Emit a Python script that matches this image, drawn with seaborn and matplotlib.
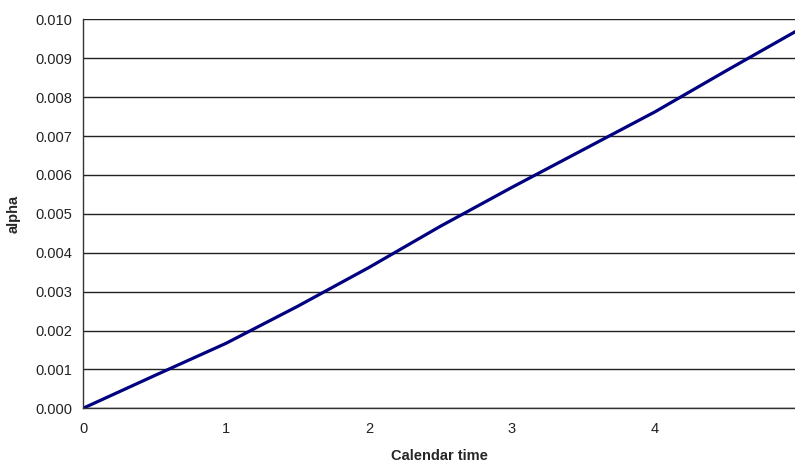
import numpy as np
import pandas as pd
import matplotlib
matplotlib.use('Agg')
import matplotlib.pyplot as plt
import seaborn as sns

# values
calendar_time = [0.0, 0.5, 1.0, 1.5, 2.0, 2.5, 3.0, 3.5, 4.0, 4.5, 5.0]
alpha_vals = [0.0, 0.00084, 0.00167, 0.00262, 0.00362, 0.00468, 0.00568,
              0.00665, 0.00762, 0.00868, 0.00972]
y_ticks = [0.000, 0.001, 0.002, 0.003, 0.004, 0.005, 0.006, 0.007, 0.008, 0.009, 0.010]
x_ticks = [0, 1, 2, 3, 4]

df = pd.DataFrame({'Calendar time': calendar_time, 'alpha': alpha_vals})

sns.set_style('white')
plt.rcParams['font.family'] = ['Liberation Sans', 'DejaVu Sans']

fig = plt.figure(figsize=(7.95, 4.65), dpi=100)
ax = fig.add_axes([83 / 795, 1 - 408.3 / 465, 712 / 795, 389 / 465])

sns.lineplot(data=df, x='Calendar time', y='alpha', color='#000080',
             linewidth=2.3, ax=ax)

ax.set_xlim(0, 4.98)
ax.set_ylim(0, 0.010)
ax.set_xticks(x_ticks)
ax.set_yticks(y_ticks)
ax.set_yticklabels(['%.3f' % v for v in y_ticks])
ax.yaxis.grid(True, color='#222222', linewidth=1)
ax.set_axisbelow(True)

for s in ['top', 'right']:
    ax.spines[s].set_visible(False)
for s in ['left', 'bottom']:
    ax.spines[s].set_color('#333333')
    ax.spines[s].set_linewidth(1)

ax.tick_params(axis='both', which='major', labelsize=10.5, length=4, width=1,
               color='#333333', direction='out', pad=4, labelcolor='#222222')
ax.tick_params(axis='x', pad=6)

ax.set_xlabel('Calendar time', fontsize=10.5, fontweight='bold', labelpad=9)
ax.set_ylabel('alpha', fontsize=10.5, fontweight='bold', labelpad=10)

fig.savefig('out.png', dpi=100)
